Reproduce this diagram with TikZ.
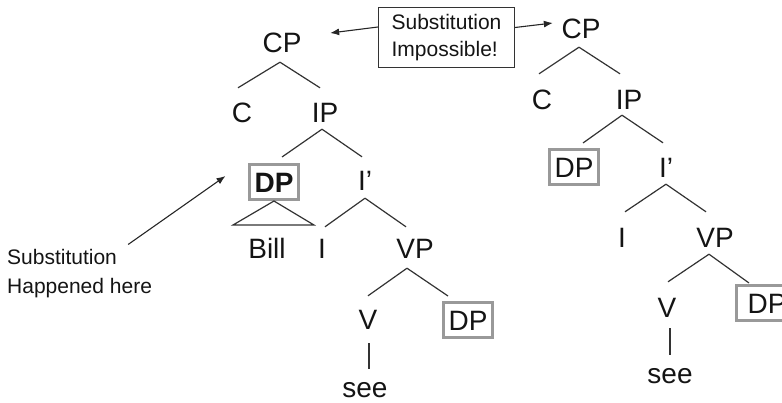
\documentclass[tikz,border=0pt]{standalone}
\usepackage{fontspec}
\setmainfont{Liberation Sans}
\usetikzlibrary{arrows.meta}
\newcommand\tedge[6]{\draw[tl] ([xshift=#3pt,yshift=-#4pt]#1.south) -- ([xshift=#5pt,yshift=#6pt]#2.north);}
\begin{document}
\begin{tikzpicture}[x=1pt,y=-1pt,
 lab/.style={font=\fontsize{28}{30}\selectfont, inner sep=0pt, text height=20pt, text depth=0pt, text=black!92},
 dpbox/.style={lab, draw=black!40, line width=3pt, minimum width=49pt, minimum height=35pt},
 tl/.style={line width=1.2pt, draw=black!80},
 arr/.style={line width=1.1pt, draw=black!85, -{Latex[length=9pt,width=7pt]}},
 note/.style={font=\fontsize{21}{27}\selectfont, text=black!92, align=left}
]
\useasboundingbox (0,0) rectangle (782,402);
% left tree
\node[lab] (cpL) at (282,42) {CP};
\node[lab] (cL) at (242,112) {C};
\node[lab] (ipL) at (325,112) {IP};
\node[dpbox,font=\fontsize{28}{30}\selectfont\bfseries] (dpL) at (274,182) {DP};
\node[lab] (i1L) at (365,180) {I’};
\node[lab] (bill) at (267,248) {Bill};
\node[lab] (iL) at (322,248) {I};
\node[lab] (vpL) at (415,248) {VP};
\node[lab] (vL) at (368,319) {V};
\node[dpbox] (dp2L) at (468,320) {DP};
\node[lab] (seeL) at (365,387) {see};
\tedge{cpL}{cL}{-2}{10}{-4}{14}
\tedge{cpL}{ipL}{-2}{10}{-5}{14}
\tedge{ipL}{dpL}{-3}{7}{8}{6}
\tedge{ipL}{i1L}{-3}{7}{-3}{13}
\tedge{i1L}{iL}{0}{8}{3}{11}
\tedge{i1L}{vpL}{0}{8}{-9}{11}
\tedge{vpL}{vL}{-8}{10}{0}{13}
\tedge{vpL}{dp2L}{-8}{10}{-20}{5}
\draw[tl] ([xshift=1pt,yshift=-14pt]vL.south) -- ([xshift=4pt,yshift=8pt]seeL.north);
\draw[tl] (dpL.south) -- ++(-41,24) -- ++(81,0) -- cycle;
% right tree
\node[lab] (cpR) at (581,28) {CP};
\node[lab] (cR) at (542,99) {C};
\node[lab] (ipR) at (629,99) {IP};
\node[dpbox] (dpR) at (574,167) {DP};
\node[lab] (i1R) at (666,167) {I’};
\node[lab] (iR) at (622,237) {I};
\node[lab] (vpR) at (715,237) {VP};
\node[lab] (vR) at (667,307) {V};
\node[dpbox, minimum width=61pt] (dp2R) at (767,303) {DP};
\node[lab] (seeR) at (670,373) {see};
\tedge{cpR}{cR}{-2}{9}{-3}{15}
\tedge{cpR}{ipR}{-2}{9}{-9}{15}
\tedge{ipR}{dpR}{-7}{6}{9}{5}
\tedge{ipR}{i1R}{-7}{6}{-3}{14}
\tedge{i1R}{iR}{0}{7}{3}{15}
\tedge{i1R}{vpR}{0}{7}{-9}{15}
\tedge{vpR}{vR}{-6}{7}{1}{15}
\tedge{vpR}{dp2R}{-6}{7}{-18}{1}
\draw[tl] ([xshift=3pt,yshift=-11pt]vR.south) -- ([xshift=0pt,yshift=8pt]seeR.north);
% notes
\node[note, draw=black!80, line width=1pt, minimum width=136pt, minimum height=60pt] (sub) at (446.5,37.5) {Substitution\\Impossible!};
\draw[arr] ([yshift=10.5pt]sub.west) -- ([xshift=28.5pt,yshift=9pt]cpL.east);
\draw[arr] ([yshift=10pt]sub.east) -- ([xshift=-8.5pt,yshift=5pt]cpR.west);
\node[note, font=\fontsize{21}{29}\selectfont, inner sep=0pt, anchor=west] (hap) at (7,274) {Substitution\\Happened here};
\draw[arr] ([xshift=48.5pt,yshift=5pt]hap.north) -- ([xshift=-22.5pt,yshift=6pt]dpL.west);
\end{tikzpicture}
\end{document}
